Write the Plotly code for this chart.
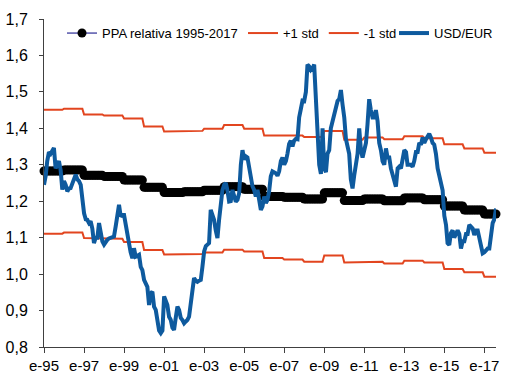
import plotly.graph_objects as go
import pandas as pd

# Annual levels (Jan 1995 .. 2017) of the relative PPP and its +/- 1 std bands
years = list(range(1995, 2018))
ppa_annual = [1.283, 1.286, 1.271, 1.268, 1.258, 1.238, 1.224, 1.226, 1.230, 1.240,
              1.233, 1.213, 1.211, 1.206, 1.223, 1.202, 1.206, 1.201, 1.209, 1.204,
              1.187, 1.176, 1.165]
upper_annual = [1.451, 1.454, 1.438, 1.435, 1.427, 1.405, 1.391, 1.393, 1.399, 1.409,
                1.399, 1.380, 1.380, 1.376, 1.393, 1.369, 1.375, 1.370, 1.378, 1.373,
                1.356, 1.345, 1.333]
lower_annual = [1.111, 1.114, 1.099, 1.097, 1.088, 1.066, 1.054, 1.055, 1.059, 1.067,
                1.062, 1.044, 1.040, 1.034, 1.051, 1.032, 1.034, 1.029, 1.037, 1.032,
                1.014, 1.005, 0.993]

# Monthly USD/EUR, Jan 1995 .. Aug 2017
usd_eur = [
    1.245, 1.27, 1.31, 1.335, 1.33, 1.34, 1.346, 1.29, 1.30, 1.31, 1.285, 1.232,   # 1995
    1.255, 1.245, 1.227, 1.235, 1.236, 1.25, 1.264, 1.273, 1.26, 1.255, 1.245, 1.20,  # 1996
    1.167, 1.15, 1.149, 1.14, 1.145, 1.125, 1.085, 1.10, 1.10, 1.14, 1.112, 1.09,  # 1997
    1.081, 1.09, 1.094, 1.098, 1.099, 1.10, 1.103, 1.131, 1.16, 1.19, 1.158, 1.162,  # 1998
    1.162, 1.131, 1.10, 1.085, 1.06, 1.044, 1.071, 1.048, 1.05, 1.053, 1.02, 1.011,  # 1999
    0.984, 0.972, 0.965, 0.915, 0.947, 0.952, 0.911, 0.902, 0.875, 0.845, 0.838, 0.845,  # 2000
    0.939, 0.925, 0.915, 0.883, 0.875, 0.853, 0.847, 0.88, 0.911, 0.902, 0.88, 0.874,  # 2001
    0.865, 0.87, 0.874, 0.883, 0.92, 0.955, 0.989, 0.982, 0.979, 0.982, 0.984, 1.02,  # 2002
    1.062, 1.077, 1.081, 1.085, 1.176, 1.16, 1.149, 1.12, 1.099, 1.149, 1.20, 1.23,  # 2003
    1.245, 1.25, 1.23, 1.199, 1.20, 1.231, 1.215, 1.199, 1.204, 1.222, 1.30, 1.34,  # 2004
    1.314, 1.323, 1.32, 1.29, 1.277, 1.241, 1.231, 1.213, 1.231, 1.20, 1.176, 1.186,  # 2005
    1.213, 1.195, 1.203, 1.227, 1.268, 1.282, 1.28, 1.277, 1.27, 1.282, 1.31, 1.32,  # 2006
    1.30, 1.31, 1.33, 1.357, 1.366, 1.35, 1.366, 1.371, 1.37, 1.43, 1.453, 1.476,  # 2007
    1.475, 1.50, 1.575, 1.57, 1.56, 1.565, 1.575, 1.49, 1.42, 1.30, 1.275, 1.40,  # 2008
    1.29, 1.28, 1.33, 1.34, 1.40, 1.42, 1.43, 1.46, 1.475, 1.48, 1.505, 1.465,  # 2009
    1.43, 1.37, 1.355, 1.33, 1.26, 1.235, 1.27, 1.30, 1.33, 1.40, 1.34, 1.32,  # 2010
    1.34, 1.36, 1.41, 1.48, 1.45, 1.43, 1.43, 1.45, 1.42, 1.36, 1.34, 1.31,  # 2011
    1.30, 1.345, 1.32, 1.32, 1.29, 1.27, 1.25, 1.24, 1.29, 1.295, 1.29, 1.32,  # 2012
    1.34, 1.335, 1.30, 1.30, 1.30, 1.295, 1.31, 1.335, 1.335, 1.36, 1.355, 1.375,  # 2013
    1.36, 1.37, 1.38, 1.385, 1.375, 1.36, 1.355, 1.33, 1.29, 1.27, 1.25, 1.23,  # 2014
    1.16, 1.135, 1.085, 1.08, 1.112, 1.12, 1.10, 1.114, 1.12, 1.11, 1.07, 1.09,  # 2015
    1.09, 1.11, 1.11, 1.135, 1.13, 1.125, 1.107, 1.12, 1.12, 1.10, 1.08, 1.057,  # 2016
    1.06, 1.065, 1.07, 1.07, 1.105, 1.14, 1.15, 1.18,  # 2017
]

tick_labels = ["e-95", "e-97", "e-99", "e-01", "e-03", "e-05", "e-07", "e-09",
               "e-11", "e-13", "e-15", "e-17"]
tick_years = list(range(1995, 2018, 2))

months = pd.date_range("1995-01-01", periods=len(usd_eur), freq="MS")
year_pos = [years.index(d.year) for d in months]
ppa = [ppa_annual[i] for i in year_pos]
upper = [upper_annual[i] for i in year_pos]
lower = [lower_annual[i] for i in year_pos]

ORANGE = "#E2451F"
BLUE = "#0E5A9E"
FONT = "Liberation Sans, Arial, sans-serif"

fig = go.Figure()
fig.add_trace(go.Scatter(x=months, y=ppa, name="PPA relativa 1995-2017",
                         mode="lines+markers",
                         line=dict(color="#000080", width=1),
                         marker=dict(color="black", size=9, symbol="circle"),
                         cliponaxis=False, legend="legend"))
fig.add_trace(go.Scatter(x=months, y=upper, name="+1 std", mode="lines",
                         line=dict(color=ORANGE, width=2), legend="legend2"))
fig.add_trace(go.Scatter(x=months, y=lower, name="-1 std", mode="lines",
                         line=dict(color=ORANGE, width=2), legend="legend2"))
fig.add_trace(go.Scatter(x=months, y=usd_eur, name="USD/EUR", mode="lines",
                         line=dict(color=BLUE, width=4), legend="legend3"))

def leg(px):
    return dict(orientation="h", x=(px - 44) / 452, y=0.957, xanchor="left",
                yanchor="middle", bgcolor="rgba(0,0,0,0)",
                font=dict(size=13, family=FONT), itemwidth=30)

fig.update_layout(
    template="none",
    width=522, height=389,
    margin=dict(l=44, r=26, t=19, b=42, autoexpand=False),
    paper_bgcolor="white", plot_bgcolor="white",
    separators=",.",
    font=dict(family=FONT, color="black"),
    showlegend=True,
    legend=leg(62),
    legend2=leg(243),
    legend3=leg(394),
    xaxis=dict(type="date", range=[months[0], months[-1]],
               tickvals=[pd.Timestamp(f"{y}-01-01") for y in tick_years],
               ticktext=tick_labels, automargin=False,
               showgrid=False, zeroline=False,
               showline=True, linecolor="#404040", linewidth=1,
               ticks="outside", ticklen=5, tickcolor="#404040",
               tickfont=dict(size=15, family=FONT)),
    yaxis=dict(range=[0.8, 1.7], tick0=0.8, dtick=0.1, tickformat=".1f",
               automargin=False,
               showgrid=False, zeroline=False,
               showline=True, linecolor="#404040", linewidth=1,
               ticks="outside", ticklen=4, tickcolor="#404040",
               ticklabelstandoff=8,
               tickfont=dict(size=16, family=FONT)),
)

fig.write_html("out.html", config={"displayModeBar": False},
               post_script="document.body.style.margin='0';")
